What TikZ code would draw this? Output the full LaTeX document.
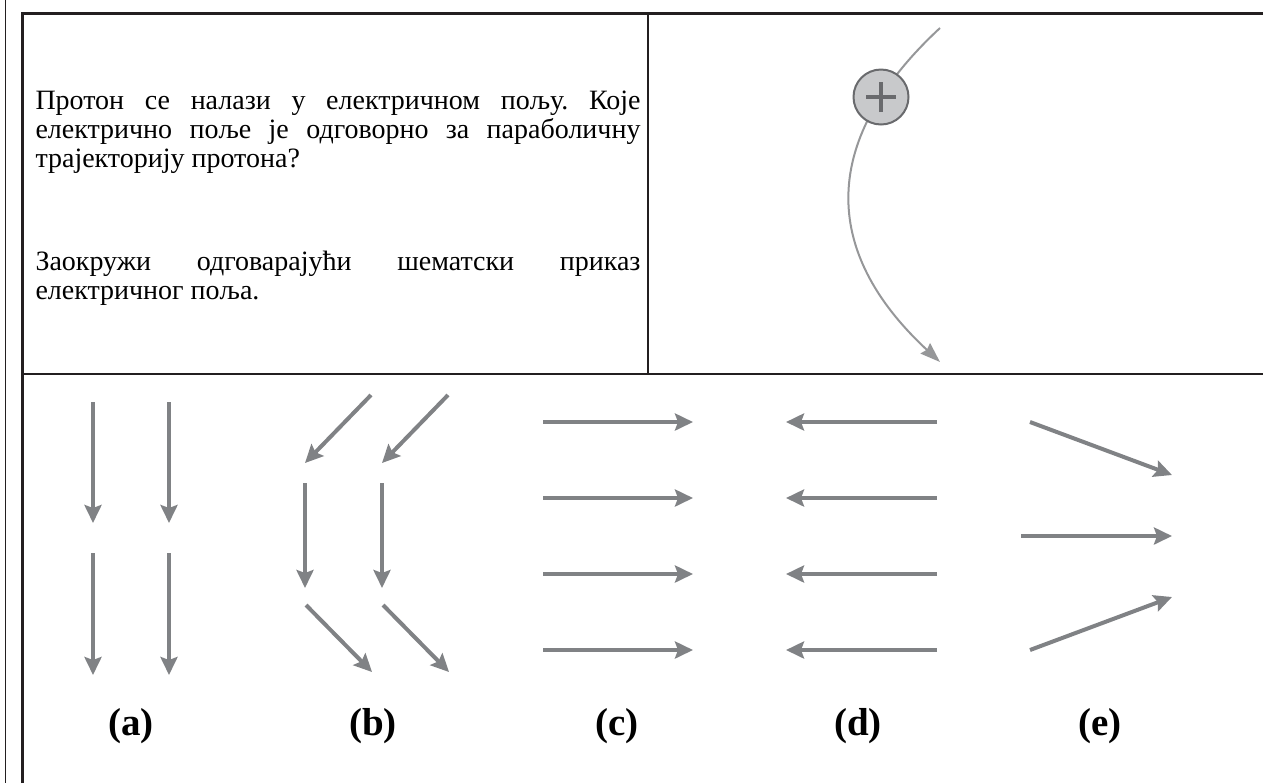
\documentclass[tikz,border=0pt]{standalone}
\usepackage{fontspec}
\setmainfont{Liberation Serif}
\usetikzlibrary{arrows.meta}
\definecolor{ink}{RGB}{35,31,32}
\definecolor{field}{RGB}{128,130,133}
\definecolor{trail}{RGB}{150,151,153}
\definecolor{chargefill}{RGB}{200,201,203}
\definecolor{chargeedge}{RGB}{105,106,109}
\tikzset{
  every picture/.style={line width=0.5pt},
  rule/.style={draw=ink, line width=1.1pt},
  outer rule/.style={draw=ink, line width=0.6pt},
  fieldline/.style={draw=field, line width=2pt, -{Stealth[length=9pt,width=8.5pt,inset=1.5pt]}},
  orbit/.style={draw=trail, line width=1pt, -{Stealth[length=10pt,width=7pt,inset=1pt]}},
  body/.style={font=\fontsize{14}{14.5}\selectfont\frenchspacing, text width=302.5pt, align=justify, inner sep=0pt, anchor=base west},
  tag/.style={font=\fontsize{19.5}{21}\selectfont\bfseries, inner sep=0pt, anchor=base},
  charge/.style={circle, draw=chargeedge, line width=1pt, fill=chargefill, minimum size=27.5pt, inner sep=0pt},
}

\begin{document}
\begin{tikzpicture}[x=0.5pt, y=-0.5pt]
  % one unit = one pixel of the 1263 x 783 sheet, y pointing down
  \useasboundingbox (0,0) rectangle (1263,783);
  \hyphenpenalty=10000
  % table rules
  \draw[outer rule] (5.7,0) -- (5.7,783);
  \draw[rule] (22.5,783) -- (22.5,13.5) -- (1263,13.5);
  \draw[rule] (648,13.5) -- (648,374);
  \draw[rule] (22.5,374) -- (1263,374);
  % question
  \node[body] (ask) at (35,109) {Протон се налази у електричном пољу. Које\linebreak електрично поље је одговорно за параболичну\linebreak трајекторију протона?};
  \node[body] (task) at (35,270) {Заокружи одговарајући шематски приказ\linebreak електричног поља.};
  % proton on its parabola
  \coordinate (enter) at (940,28);
  \coordinate (leave) at (940,362);
  \draw[orbit] (enter) .. controls (820,139.3) and (820,250.7) .. (leave);
  \node[charge] (proton) at (881,97) {};
  \draw[chargeedge, line width=1.8pt] ([xshift=-7.5pt]proton.center) -- ([xshift=7.5pt]proton.center) ([yshift=-7.5pt]proton.center) -- ([yshift=7.5pt]proton.center);
  % (a) uniform downward
  \foreach \x in {93,169} { \draw[fieldline] (\x,402) -- (\x,523); \draw[fieldline] (\x,553) -- (\x,675); }
  % (b) bent field
  \foreach \x in {305,382} { \draw[fieldline] (\x+66,395) -- (\x,463); \draw[fieldline] (\x,483) -- (\x,588); \draw[fieldline] (\x+1,605) -- (\x+67,672); }
  % (c) to the right, (d) to the left
  \foreach \y in {422,498,574,650} { \draw[fieldline] (543,\y) -- (693,\y); \draw[fieldline] (937,\y) -- (786,\y); }
  % (e) converging
  \foreach \a/\b/\c in {422/1030/475,536/1021/536,650/1030/597} { \draw[fieldline] (\b,\a) -- (1172,\c); }
  \foreach \n/\x in {a/131,b/373,c/617,d/858,e/1100} { \node[tag] (lab\n) at (\x,735) {(\n)}; }
\end{tikzpicture}
\end{document}
